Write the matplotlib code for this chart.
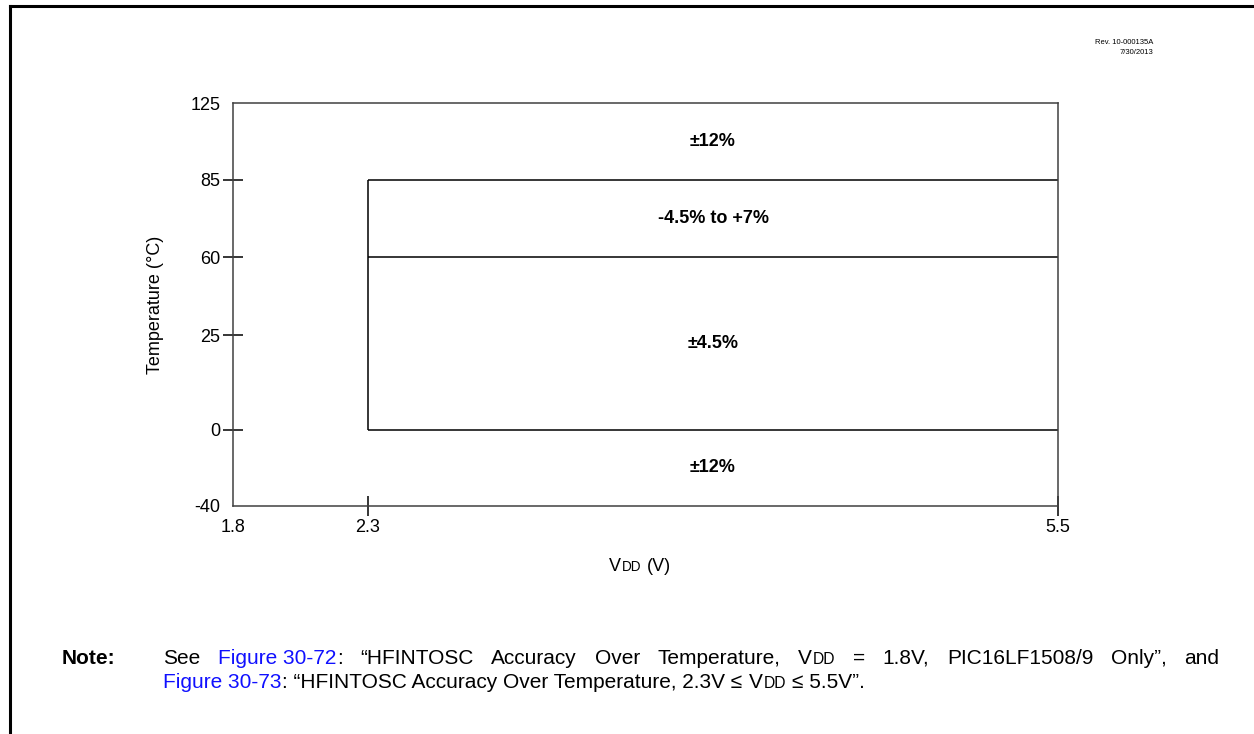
import matplotlib
matplotlib.use("Agg")
import matplotlib.pyplot as plt
import numpy as np
from matplotlib.lines import Line2D
from matplotlib.transforms import IdentityTransform

plt.rcParams['font.family'] = ['Liberation Sans', 'DejaVu Sans']

# data
temp_ticks = [125, 85, 60, 25, 0, -40]
vdd_ticks = [1.8, 2.3, 5.5]
vdd_split = 2.3
vdd_max = 5.5
zone_bounds = [0, 60, 85]          # horizontal limits inside 2.3V..5.5V
band_edges = [125, 85, 60, 0, -40]
band_labels = ['±12%', '-4.5% to +7%', '±4.5%', '±12%']

# the chart's axes are not to scale: piecewise mapping
t_vals = [-40, 0, 25, 60, 85, 125]
t_pos = [0, 76, 171, 249, 326, 403]
v_vals = [1.8, 2.3, 5.5]
v_pos = [0, 135, 825]

def fy(v): return np.interp(v, t_vals, t_pos)
def iy(p): return np.interp(p, t_pos, t_vals)
def fx(v): return np.interp(v, v_vals, v_pos)
def ix(p): return np.interp(p, v_pos, v_vals)

W, H = 1254, 734
FS = 13      # chart text
NS = 15      # note text
fig = plt.figure(figsize=(W/100, H/100), dpi=100)
ax = fig.add_axes([233/W, 1-506/H, (1058-233)/W, (506-103)/H])
ax.set_xscale('function', functions=(fx, ix))
ax.set_yscale('function', functions=(fy, iy))
ax.set_xlim(1.8, 5.5)
ax.set_ylim(-40, 125)

ax.vlines(vdd_split, zone_bounds[0], zone_bounds[-1], color='black', lw=1.1)
ax.hlines(zone_bounds, vdd_split, vdd_max, color='black', lw=1.1)

for i, lab in enumerate(band_labels):
    a, b = band_edges[i], band_edges[i+1]
    yc = iy((fy(a) + fy(b)) / 2)
    ax.text(3.9, yc, lab, ha='center', va='center', fontsize=FS, fontweight='bold')

ax.set_yticks(temp_ticks)
ax.set_yticklabels([str(t) for t in temp_ticks])
ax.set_xticks(vdd_ticks)
ax.set_xticklabels([str(v) for v in vdd_ticks])
ax.tick_params(axis='both', direction='inout', length=14, width=1.1, color='black',
               labelsize=FS, pad=2)
ax.minorticks_off()
for k in [0, 5]:
    ax.yaxis.get_major_ticks()[k].tick1line.set_visible(False)
ax.xaxis.get_major_ticks()[0].tick1line.set_visible(False)
for s in ax.spines.values():
    s.set_color('#404040')
    s.set_linewidth(1.1)

# page frame
fig.add_artist(Line2D([10/W, 10/W], [0, 1-6/H], transform=fig.transFigure, color='black', lw=2.2))
fig.add_artist(Line2D([10/W, 1], [1-6/H, 1-6/H], transform=fig.transFigure, color='black', lw=2.2))

fig.text(1153/W, 1-43/H, 'Rev. 10-000135A', ha='right', va='center', fontsize=5.5)
fig.text(1153/W, 1-52/H, '7/30/2013', ha='right', va='center', fontsize=5.5)

fig.text(156/W, 1-305/H, 'Temperature (°C)', rotation=90, ha='center', va='center', fontsize=FS)

renderer = fig.canvas.get_renderer()

def mk(x, y, s, color='black', size=NS, weight='normal'):
    return fig.text(x, H - y, s, color=color, fontsize=size, fontweight=weight,
                    ha='left', va='baseline', transform=IdentityTransform())

def run_width(s, size=NS, weight='normal'):
    t = mk(0, 0, s, size=size, weight=weight)
    w = t.get_window_extent(renderer).width
    t.remove()
    return w

def word_width(word):
    return sum(run_width(s, sz) + 1 for s, c, sz in word) - 1

def draw_words(x, y, words, gap):
    for word in words:
        for s, c, sz in word:
            mk(x, y, s, color=c, size=sz)
            x += run_width(s, sz) + 1
        x += gap - 1

blue = '#1010ff'

# x axis label "VDD (V)"
xl_words = [[('V', 'black', FS), ('DD', 'black', FS * 0.75)], [('(V)', 'black', FS)]]
sp = run_width('x x', FS) - run_width('xx', FS)
xl_w = sum(word_width(w) for w in xl_words) + sp
draw_words(640 - xl_w / 2, 571, xl_words, sp)

# note
space = run_width('x x') - run_width('xx')
small = NS * 0.75
mk(62, 664, 'Note:', weight='bold')
line1 = [[('See', 'black', NS)],
         [('Figure 30-72', blue, NS), (':', 'black', NS)],
         [('“HFINTOSC', 'black', NS)],
         [('Accuracy', 'black', NS)],
         [('Over', 'black', NS)],
         [('Temperature,', 'black', NS)],
         [('V', 'black', NS), ('DD', 'black', small)],
         [('=', 'black', NS)],
         [('1.8V,', 'black', NS)],
         [('PIC16LF1508/9', 'black', NS)],
         [('Only”,', 'black', NS)],
         [('and', 'black', NS)]]
total = sum(word_width(w) for w in line1)
gap1 = (1219 - 163 - total) / (len(line1) - 1)
draw_words(163, 664, line1, gap1)

line2 = [[('Figure 30-73', blue, NS), (': “HFINTOSC Accuracy Over Temperature, 2.3V ≤', 'black', NS)],
         [('V', 'black', NS), ('DD', 'black', small)],
         [('≤ 5.5V”.', 'black', NS)]]
draw_words(163, 688, line2, space)

fig.savefig('out.png', dpi=100)
